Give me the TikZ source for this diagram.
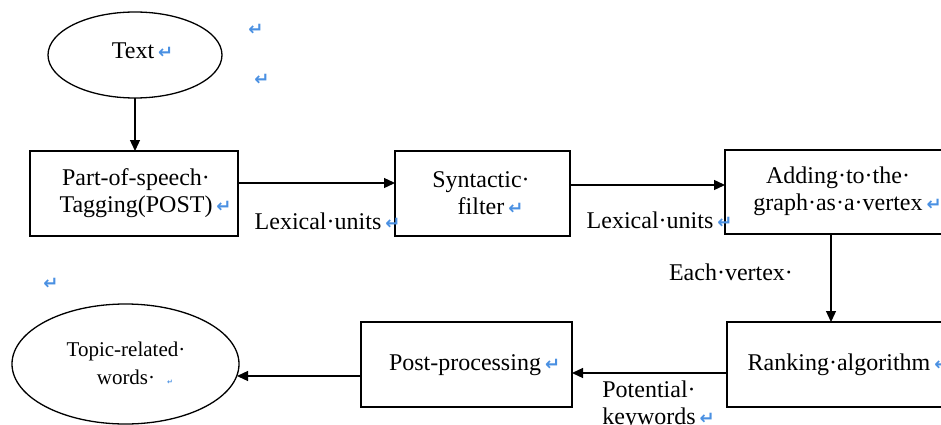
\documentclass[tikz,border=0pt]{standalone}
\usepackage{fontspec}
\setmainfont{Liberation Serif}
\newfontfamily\dejavu{DejaVu Sans}
\usetikzlibrary{arrows.meta,shapes.geometric}
\definecolor{retblue}{RGB}{74,144,226}
\newcommand\retglyph{{\dejavu\bfseries\color{retblue}\fontsize{18}{18}\selectfont ↵}}
\newcommand\ret{\rlap{\kern4pt\retglyph}}
\begin{document}
\begin{tikzpicture}[x=1pt,y=-1pt,
  every node/.style={inner sep=0pt, outer sep=0pt},
  lab/.style={font=\fontsize{24}{27}\selectfont, align=center, anchor=center},
  smalllab/.style={font=\fontsize{21}{28}\selectfont, align=center, anchor=center},
  box/.style={draw, line width=1.3pt, rectangle},
  ell/.style={draw, line width=1.3pt, ellipse},
  arr/.style={line width=1.3pt, -{Triangle[length=11pt,width=10pt]}}]
\useasboundingbox (0,0) rectangle (941,425);
\clip (0,0) rectangle (941,425);
% shapes
\node[ell, minimum width=174pt, minimum height=86pt] (txt) at (135,55) {};
\node[box, minimum width=208pt, minimum height=85pt] (post) at (134,193.5) {};
\node[box, minimum width=175pt, minimum height=85pt] (syn) at (482.5,193.5) {};
\node[box, minimum width=233pt, minimum height=84pt] (add) at (841.5,192) {};
\node[box, minimum width=231pt, minimum height=85pt] (rank) at (842.5,364.5) {};
\node[box, minimum width=211pt, minimum height=85pt] (pp) at (466.5,364.5) {};
\node[ell, minimum width=227pt, minimum height=120pt] (topic) at (125.5,364) {};
% texts
\node[lab] (txtl) at (133,51) {Text\ret};
\node[lab] (postl) at (136,193.5) {Part-of-speech·\\Tagging(POST)\ret};
\node[lab] (synl) at (481,193.5) {Syntactic·\\filter\ret};
\node[lab] (addl) at (838,191.5) {Adding·to·the·\\graph·as·a·vertex\ret};
\node[lab] (rankl) at (839,365) {Ranking·algorithm\ret};
\node[lab] (ppl) at (465,365) {Post-processing\ret};
\node[smalllab] (topicl) at (126,363) {Topic-related·\\words·\rlap{\kern12pt{\dejavu\bfseries\color{retblue}\fontsize{7}{7}\selectfont ↵}}};
\node[lab] (lex1) at (318,221) {Lexical·units\ret};
\node[lab] (lex2) at (650,220) {Lexical·units\ret};
\node[lab] (each) at (731,272) {Each·vertex·};
\node[lab] (potl) at (649,405) {Potential·\\keywords\ret};
% stray paragraph marks
\node (r1) at (256,30) {\retglyph};
\node (r2) at (262,80) {\retglyph};
\node (r3) at (51,284) {\retglyph};
% connectors
\draw[arr] (txt.south) -- (txt.south |- post.north);
\draw[arr] (post.east |- 0,183) -- (syn.west |- 0,183);
\draw[arr] (syn.east |- 0,185) -- (add.west |- 0,185);
\draw[arr] (add.south -| 831,0) -- (rank.north -| 831,0);
\draw[arr] (rank.west |- 0,373) -- (pp.east |- 0,373);
\draw[arr] (pp.west |- 0,376) -- (237,376);
\end{tikzpicture}
\end{document}
